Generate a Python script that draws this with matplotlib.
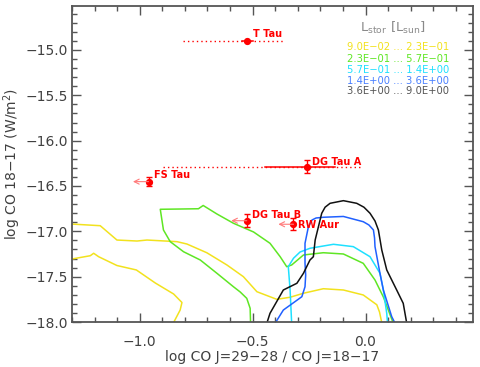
import matplotlib
matplotlib.use("Agg")
import matplotlib.pyplot as plt
from matplotlib.ticker import MultipleLocator

# ---------------- data ----------------
# Observed sources: x = log CO 29-28/18-17, y = log CO 18-17 flux
src_names = ["T Tau", "DG Tau A", "FS Tau", "DG Tau B", "RW Aur"]
src_x = [-0.524, -0.260, -0.961, -0.526, -0.319]
src_y = [-14.897, -16.287, -16.452, -16.883, -16.922]
src_yerr = [0.0, 0.07, 0.05, 0.07, 0.065]
# horizontal ranges (solid part) and dotted extensions
ttau_solid = [-0.546, -0.500]
ttau_dotted = [-0.807, -0.356]
dgtaua_solid = [-0.444, -0.135]
dgtaua_dotted = [-0.895, -0.017]
# upper limits (arrows pointing left): source -> arrow end x
limit_names = ["FS Tau", "DG Tau B", "RW Aur"]
limit_end_x = [-1.030, -0.595, -0.386]

# Model contours (one per stellar luminosity bin)
yellow_a_x = [-1.30, -1.175, -1.101, -1.012, -0.968, -0.835, -0.791, -0.703, -0.614, -0.541,
              -0.481, -0.393, -0.334, -0.275, -0.187, -0.098, -0.010, 0.050, 0.062, 0.073]
yellow_a_y = [-16.92, -16.938, -17.096, -17.107, -17.096, -17.114, -17.140, -17.236, -17.371, -17.500,
              -17.666, -17.750, -17.727, -17.683, -17.633, -17.647, -17.702, -17.810, -17.890, -18.02]
yellow_b_x = [-1.30, -1.219, -1.204, -1.182, -1.101, -1.015, -0.931, -0.850, -0.813, -0.821, -0.853]
yellow_b_y = [-17.305, -17.269, -17.242, -17.280, -17.377, -17.426, -17.570, -17.691, -17.785, -17.868, -18.02]
green_x = [-0.509, -0.511, -0.526, -0.555, -0.585, -0.658, -0.732, -0.806, -0.865, -0.895, -0.909,
           -0.821, -0.740, -0.719, -0.658, -0.585, -0.496, -0.423, -0.378, -0.349, -0.327, -0.275,
           -0.187, -0.098, -0.010, 0.042, 0.079, 0.124]
green_y = [-18.02, -17.849, -17.739, -17.669, -17.611, -17.463, -17.316, -17.225, -17.114, -16.985, -16.757,
           -16.754, -16.751, -16.715, -16.809, -16.911, -17.007, -17.132, -17.280, -17.390, -17.371, -17.261,
           -17.236, -17.250, -17.353, -17.537, -17.724, -18.02]
cyan_x = [-0.327, -0.334, -0.342, -0.319, -0.290, -0.246, -0.142, -0.054, 0.020, 0.064, 0.079, 0.094, 0.098]
cyan_y = [-18.02, -17.647, -17.390, -17.297, -17.228, -17.187, -17.143, -17.169, -17.280, -17.463, -17.647,
          -17.904, -18.02]
blue_x = [-0.402, -0.364, -0.282, -0.268, -0.265, -0.268, -0.268, -0.253, -0.237, -0.219, -0.187, -0.098,
          -0.010, 0.015, 0.035, 0.040, 0.042, 0.064, 0.079, 0.116, 0.132]
blue_y = [-18.02, -17.868, -17.721, -17.611, -17.482, -17.353, -17.132, -16.949, -16.875, -16.853, -16.845,
          -16.836, -16.894, -16.930, -16.985, -17.074, -17.169, -17.463, -17.647, -17.941, -18.02]
black_x = [-0.438, -0.423, -0.364, -0.304, -0.275, -0.246, -0.231, -0.223, -0.194, -0.179, -0.157, -0.098,
           -0.039, -0.007, 0.020, 0.042, 0.057, 0.072, 0.094, 0.138, 0.167, 0.183]
black_y = [-18.02, -17.904, -17.647, -17.573, -17.463, -17.316, -17.280, -17.096, -16.801, -16.734, -16.691,
           -16.662, -16.691, -16.734, -16.801, -16.886, -16.985, -17.206, -17.426, -17.647, -17.794, -18.02]

legend_title = "L$_{\\rm stor}$ [L$_{\\rm sun}$]"
legend_labels = ["9.0E\u221202 ... 2.3E\u221201", "2.3E\u221201 ... 5.7E\u221201",
                 "5.7E\u221201 ... 1.4E+00", "1.4E+00 ... 3.6E+00", "3.6E+00 ... 9.0E+00"]

# ---------------- style ----------------
c_yellow = "#f2e21e"
c_green = "#5fe624"
c_cyan = "#1ee0ff"
c_blue = "#2060ff"
c_black = "#111111"
c_red = "#ff0000"
c_arrow = "#ff7a7a"
c_frame = "#555555"
c_text = "#404040"
legend_colors = [c_yellow, c_green, c_cyan, "#4a80ff", "#555555"]

plt.rcParams["font.family"] = ["DejaVu Sans"]

fig = plt.figure(figsize=(4.8, 3.67), dpi=100)
ax = fig.add_axes([0.15, 0.1226, 0.8354, 0.8611])

lw = 1.1
for xs, ys, col in [(yellow_a_x, yellow_a_y, c_yellow), (yellow_b_x, yellow_b_y, c_yellow),
                    (green_x, green_y, c_green), (cyan_x, cyan_y, c_cyan),
                    (blue_x, blue_y, c_blue), (black_x, black_y, c_black)]:
    ax.plot(xs, ys, color=col, lw=lw, solid_joinstyle="round")

# dotted extensions
ax.plot(ttau_dotted, [src_y[0]] * 2, color=c_red, lw=1.0, ls=(0, (1, 2.2)))
ax.plot(dgtaua_dotted, [src_y[1]] * 2, color=c_red, lw=1.0, ls=(0, (1, 2.2)))
ax.plot(ttau_solid, [src_y[0]] * 2, color=c_red, lw=1.1)
ax.plot(dgtaua_solid, [src_y[1]] * 2, color=c_red, lw=1.1)

# upper-limit arrows
for name, xe in zip(limit_names, limit_end_x):
    i = src_names.index(name)
    ax.annotate("", xy=(xe, src_y[i]), xytext=(src_x[i], src_y[i]),
                arrowprops=dict(arrowstyle="->", color=c_arrow, lw=0.8,
                                shrinkA=0, shrinkB=0, mutation_scale=9))

# points with error bars
for i in range(len(src_names)):
    ax.errorbar(src_x[i], src_y[i], yerr=src_yerr[i] if src_yerr[i] > 0 else None,
                fmt="o", color=c_red, ms=4.2, elinewidth=1.0, capsize=2.5, capthick=1.0)

label_offsets = [(3.9, 2.4), (3.6, 1.2), (3.6, 2.4), (3.6, 1.7), (3.6, -2.9)]
for i, name in enumerate(src_names):
    ax.annotate(name, xy=(src_x[i], src_y[i]), xytext=label_offsets[i],
                textcoords="offset points", color=c_red, fontsize=7,
                fontweight="bold", ha="left", va="baseline")

# legend text
ax.text(0.80, 0.930, legend_title, transform=ax.transAxes, color="#8a8a8a",
        fontsize=9.5, ha="center", va="center")
leg_y = [0.869, 0.8323, 0.7985, 0.7636, 0.731]
for lab, col, yy in zip(legend_labels, legend_colors, leg_y):
    ax.text(0.813, yy, lab, transform=ax.transAxes, color=col, fontsize=7.2,
            ha="center", va="center")

ax.set_xlim(-1.3, 0.476)
ax.set_ylim(-18.0, -14.515)
ax.xaxis.set_major_locator(MultipleLocator(0.5))
ax.xaxis.set_minor_locator(MultipleLocator(0.1))
ax.yaxis.set_major_locator(MultipleLocator(0.5))
ax.yaxis.set_minor_locator(MultipleLocator(0.1))
ax.xaxis.set_major_formatter(plt.FuncFormatter(lambda v, p: f"{v:.1f}".replace("-", "\u2212")))
ax.yaxis.set_major_formatter(plt.FuncFormatter(lambda v, p: f"{v:.1f}".replace("-", "\u2212")))
ax.tick_params(which="both", direction="in", top=True, right=True, colors=c_frame,
               labelcolor=c_text, labelsize=10)
ax.tick_params(which="major", length=6.5, width=1.0)
ax.tick_params(which="minor", length=3.3, width=1.0)
ax.tick_params(axis="x", pad=9)
ax.tick_params(axis="y", pad=3)
for s in ax.spines.values():
    s.set_color(c_frame)
    s.set_linewidth(1.3)

ax.set_xlabel("log CO J=29\u221228 / CO J=18\u221217", fontsize=10, color=c_text, labelpad=1)
ax.set_ylabel("log CO 18\u221217 (W/m$^2$)", fontsize=10, color=c_text, labelpad=1.5)

fig.savefig("out.png", dpi=100)
